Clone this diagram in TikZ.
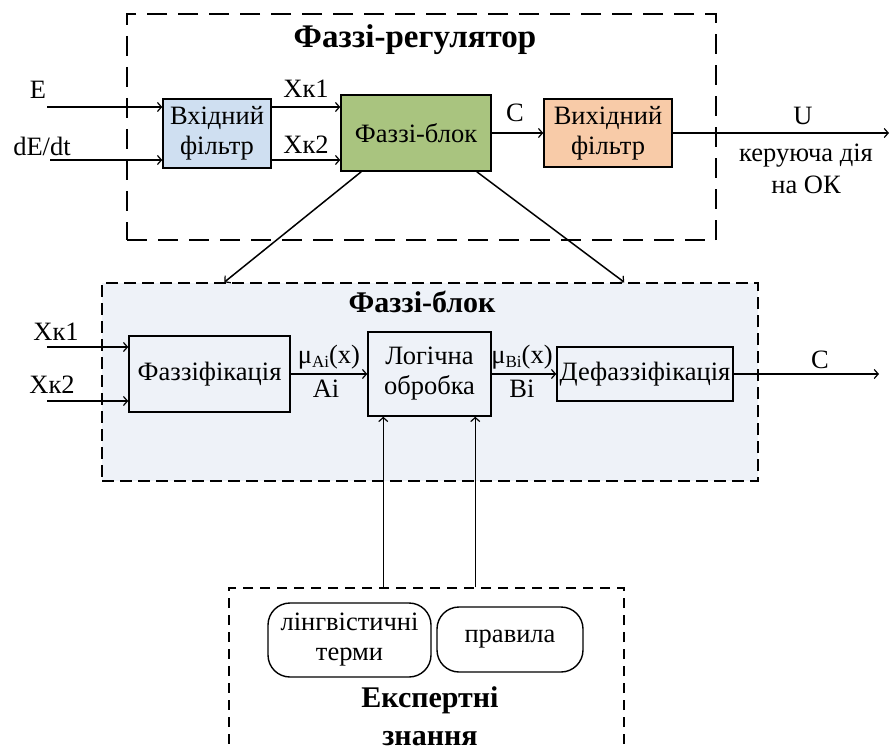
\documentclass[tikz,border=0pt]{standalone}
\usepackage{fontspec}
\setmainfont{Liberation Serif}
\usetikzlibrary{arrows.meta,calc}
\definecolor{infill}{HTML}{CFDFF1}
\definecolor{fbfill}{HTML}{A9C47F}
\definecolor{outfill}{HTML}{F8CBA8}
\definecolor{midfill}{HTML}{EEF2F8}
\newcommand{\bodyfont}{\fontsize{26.5}{30}\selectfont}
\newcommand{\headfont}{\fontsize{30}{38}\selectfont\bfseries}
\tikzset{
  arr/.style={line width=1.5pt,-{Straight Barb[length=4pt,width=9pt,line width=1.2pt]}},
  blk/.style={draw,line width=1.5pt,align=center,inner sep=0pt,font=\bodyfont},
  soft/.style={draw,line width=1.4pt,rounded corners=22pt,align=center,inner sep=0pt,font=\bodyfont},
  lbl/.style={font=\bodyfont,align=center,inner sep=0pt},
  ttl/.style={font=\headfont,align=center,inner sep=0pt},
}
\begin{document}
\begin{tikzpicture}[x=1pt,y=-1pt]
\useasboundingbox (0,0) rectangle (890,751);
\clip (0,0) rectangle (890,751);
\fill[white] (0,0) rectangle (890,751);

% fuzzy controller frame
\node[draw,line width=1.5pt,dash pattern=on 20pt off 11pt,minimum width=589pt,minimum height=226pt,inner sep=0pt] (reg) at (421.5,127) {};
\node[ttl,font=\fontsize{33}{38}\selectfont\bfseries] (regt) at (415,40) {Фаззі-регулятор};

\node[blk,fill=infill,minimum width=108pt,minimum height=69pt] (inf) at (217,133.5) {Вхідний\\фільтр};
\node[blk,fill=fbfill,minimum width=150pt,minimum height=76pt] (fb) at (416,133) {Фаззі-блок};
\node[blk,fill=outfill,minimum width=128pt,minimum height=68pt] (outf) at (608,133) {Вихідний\\фільтр};

\coordinate (Ein) at (47,107);
\coordinate (dEin) at (50,160);
\coordinate (Uout) at (889,133);
\draw[arr] (Ein) -- (inf.west |- Ein);
\draw[arr] (dEin) -- (inf.west |- dEin);
\draw[arr] (inf.east |- Ein) -- (fb.west |- Ein);
\draw[arr] (inf.east |- dEin) -- (fb.west |- dEin);
\draw[arr] (fb.east |- outf.west) -- (outf.west);
\draw[arr] (outf.east) -- (Uout);

\node[lbl] (lE) at (38,90) {E};
\node[lbl] (ldE) at (42,146) {dE/dt};
\node[lbl] (lx1) at (306,89) {Хк1};
\node[lbl] (lx2) at (306,145) {Хк2};
\node[lbl] (lC) at (515,113) {C};
\node[lbl] (lU) at (803,116) {U};
\node[lbl] (lk) at (806,156) {керуюча дія};
\node[lbl] (lo) at (806,185) {на ОК};

% fuzzy block detail
\node[draw,fill=midfill,line width=1.5pt,dash pattern=on 12pt off 6pt,minimum width=656pt,minimum height=198pt,inner sep=0pt] (mid) at (430,382) {};
\node[ttl] (midt) at (422,302) {Фаззі-блок};

\draw[arr] ([xshift=21pt]fb.south west) -- ([xshift=123pt]mid.north west);
\draw[arr] ([xshift=-15pt]fb.south east) -- ([xshift=523pt]mid.north west);

\node[blk,minimum width=161pt,minimum height=76pt] (fz) at (209.5,374) {Фаззіфікація};
\node[blk,minimum width=123pt,minimum height=84pt] (lg) at (429.5,374) {Логічна\\обробка};
\node[blk,minimum width=176pt,minimum height=54pt] (dz) at (645,374) {Дефаззіфікація};

\coordinate (x1in) at (47,347);
\coordinate (x2in) at (47,401);
\coordinate (Cout) at (879,374);
\draw[arr] (x1in) -- (fz.west |- x1in);
\draw[arr] (x2in) -- (fz.west |- x2in);
\draw[arr] (fz.east) -- (lg.west);
\draw[arr] (lg.east) -- (dz.west);
\draw[arr] (dz.east) -- (Cout);

\node[lbl] (lm1) at (56,332) {Хк1};
\node[lbl] (lm2) at (52,385) {Хк2};
\node[lbl] (lmA) at (329,357) {μ\raisebox{-0.3ex}{\fontsize{17}{17}\selectfont Ai}(x)};
\node[lbl] (lA) at (326,389) {Ai};
\node[lbl] (lmB) at (522,357) {μ\raisebox{-0.3ex}{\fontsize{17}{17}\selectfont Bi}(x)};
\node[lbl] (lB) at (522,389) {Bi};
\node[lbl] (lC2) at (820,360) {C};

% expert knowledge
\node[draw,line width=1.5pt,dash pattern=on 10pt off 7pt,minimum width=395pt,minimum height=220pt,inner sep=0pt] (exp) at (426.5,698) {};
\node[soft,minimum width=163pt,minimum height=74pt] (lt) at (349.5,640) {лінгвістичні\\терми};
\node[soft,minimum width=146pt,minimum height=65pt] (rl) at (510,639.5) {правила};
\node[ttl] (expt) at (430,716) {Експертні\\знання};

\draw[arr] ([xshift=155pt]exp.north west) -- ([xshift=16pt]lg.south west);
\draw[arr] ([xshift=247pt]exp.north west) -- ([xshift=108pt]lg.south west);
\end{tikzpicture}
\end{document}
